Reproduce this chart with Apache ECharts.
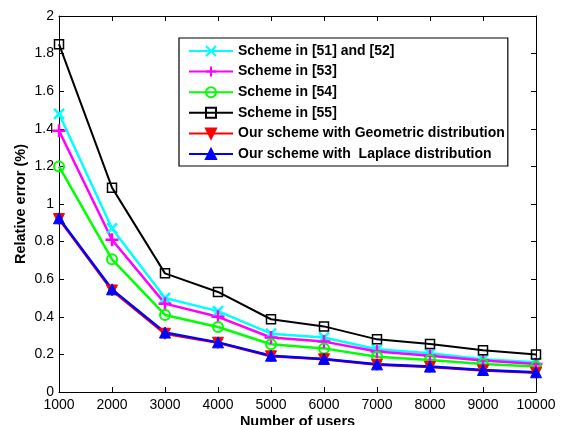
<!DOCTYPE html>
<html>
<head>
<meta charset="utf-8">
<script src="https://cdn.jsdelivr.net/npm/echarts@6/dist/echarts.min.js"></script>
<style>html,body{margin:0;padding:0;background:#fff}#c{width:561px;height:425px}</style>
</head>
<body>
<div id="c"></div>
<script>
const users = [1000, 2000, 3000, 4000, 5000, 6000, 7000, 8000, 9000, 10000];
const scheme5152 = [1.48, 0.87, 0.50, 0.43, 0.31, 0.29, 0.227, 0.206, 0.174, 0.158];
const scheme53 = [1.39, 0.81, 0.47, 0.40, 0.29, 0.268, 0.215, 0.193, 0.167, 0.149];
const scheme54 = [1.20, 0.706, 0.41, 0.346, 0.254, 0.232, 0.188, 0.170, 0.149, 0.135];
const scheme55 = [1.85, 1.087, 0.631, 0.532, 0.387, 0.349, 0.280, 0.255, 0.222, 0.200];
const oursGeometric = [0.92, 0.54, 0.31, 0.262, 0.19, 0.174, 0.145, 0.133, 0.115, 0.103];
const oursLaplace = [0.924, 0.546, 0.316, 0.264, 0.193, 0.176, 0.147, 0.135, 0.117, 0.105];
const names = ['Scheme in [51] and [52]', 'Scheme in [53]', 'Scheme in [54]', 'Scheme in [55]',
  'Our scheme with Geometric distribution', 'Our scheme with  Laplace distribution'];

const pairs = arr => users.map((u, i) => [u, arr[i]]);
const font = 'Liberation Sans, Arial, sans-serif';

function mk(name, data, color, symbol, size, fill, lw, bw) {
  return {
    name, type: 'line', data: pairs(data), xAxisIndex: 0, yAxisIndex: 0,
    symbol, symbolSize: size, showSymbol: true,
    lineStyle: { color, width: lw },
    itemStyle: { color: fill, borderColor: color, borderWidth: bw },
    emphasis: { disabled: true }
  };
}

const chart = echarts.init(document.getElementById('c'));
chart.setOption({
  animation: false,
  backgroundColor: '#fff',
  grid: { left: 59, right: 25, top: 16, bottom: 33, containLabel: false, outerBoundsMode: 'none' },
  legend: {
    orient: 'vertical', left: 179, top: 38,
    padding: [6, 3, 5, 9], itemGap: 6.6, itemWidth: 44, itemHeight: 12.5,
    borderColor: '#000', borderWidth: 1.2, backgroundColor: '#fff',
    textStyle: { fontFamily: font, fontSize: 14, fontWeight: 'bold', color: '#000' },
    data: names
  },
  xAxis: [{
    type: 'value', min: 1000, max: 10000, interval: 1000, position: 'bottom',
    name: 'Number of users', nameLocation: 'middle', nameGap: 22, nameMoveOverlap: false,
    nameTextStyle: { fontFamily: font, fontSize: 14.5, fontWeight: 'bold', color: '#000', verticalAlign: 'top' },
    axisLine: { show: true, lineStyle: { color: '#000', width: 1 } },
    axisTick: { show: true, inside: true, length: 5, lineStyle: { color: '#000' } },
    axisLabel: { fontFamily: font, fontSize: 14, color: '#000', margin: 6, formatter: v => String(v) },
    splitLine: { show: false }
  }, {
    type: 'value', min: 1000, max: 10000, interval: 1000, position: 'top',
    axisLine: { show: true, onZero: false, lineStyle: { color: '#000', width: 1 } },
    axisTick: { show: true, inside: true, length: 5, lineStyle: { color: '#000' } },
    axisLabel: { show: false }, splitLine: { show: false }
  }],
  yAxis: [{
    type: 'value', min: 0, max: 2, interval: 0.2, position: 'left',
    name: 'Relative error (%)', nameLocation: 'middle', nameGap: 31, nameMoveOverlap: false,
    nameTextStyle: { fontFamily: font, fontSize: 14.5, fontWeight: 'bold', color: '#000' },
    axisLine: { show: true, lineStyle: { color: '#000', width: 1 } },
    axisTick: { show: true, inside: true, length: 5, lineStyle: { color: '#000' } },
    axisLabel: { fontFamily: font, fontSize: 14, color: '#000', margin: 5, formatter: v => String(+v.toFixed(1)) },
    splitLine: { show: false }
  }, {
    type: 'value', min: 0, max: 2, interval: 0.2, position: 'right',
    axisLine: { show: true, onZero: false, lineStyle: { color: '#000', width: 1 } },
    axisTick: { show: true, inside: true, length: 5, lineStyle: { color: '#000' } },
    axisLabel: { show: false }, splitLine: { show: false }
  }],
  series: [
    mk(names[0], scheme5152, '#00ffff', 'path://M0,0L10,10M10,0L0,10', 10, 'rgba(0,0,0,0)', 2.5, 2.5),
    mk(names[1], scheme53, '#ff00ff', 'path://M5,0L5,10M0,5L10,5', 13, 'rgba(0,0,0,0)', 2.5, 2.5),
    mk(names[2], scheme54, '#00ff00', 'circle', 10, 'rgba(0,0,0,0)', 2.5, 2),
    mk(names[3], scheme55, '#000000', 'rect', 9, 'rgba(0,0,0,0)', 2, 1.5),
    mk(names[4], oursGeometric, '#ff0000', 'path://M0,0L10,0L5,9Z', 11, '#ff0000', 2.5, 1),
    mk(names[5], oursLaplace, '#0000ff', 'triangle', 11, '#0000ff', 2.5, 1)
  ]
});
</script>
</body>
</html>
